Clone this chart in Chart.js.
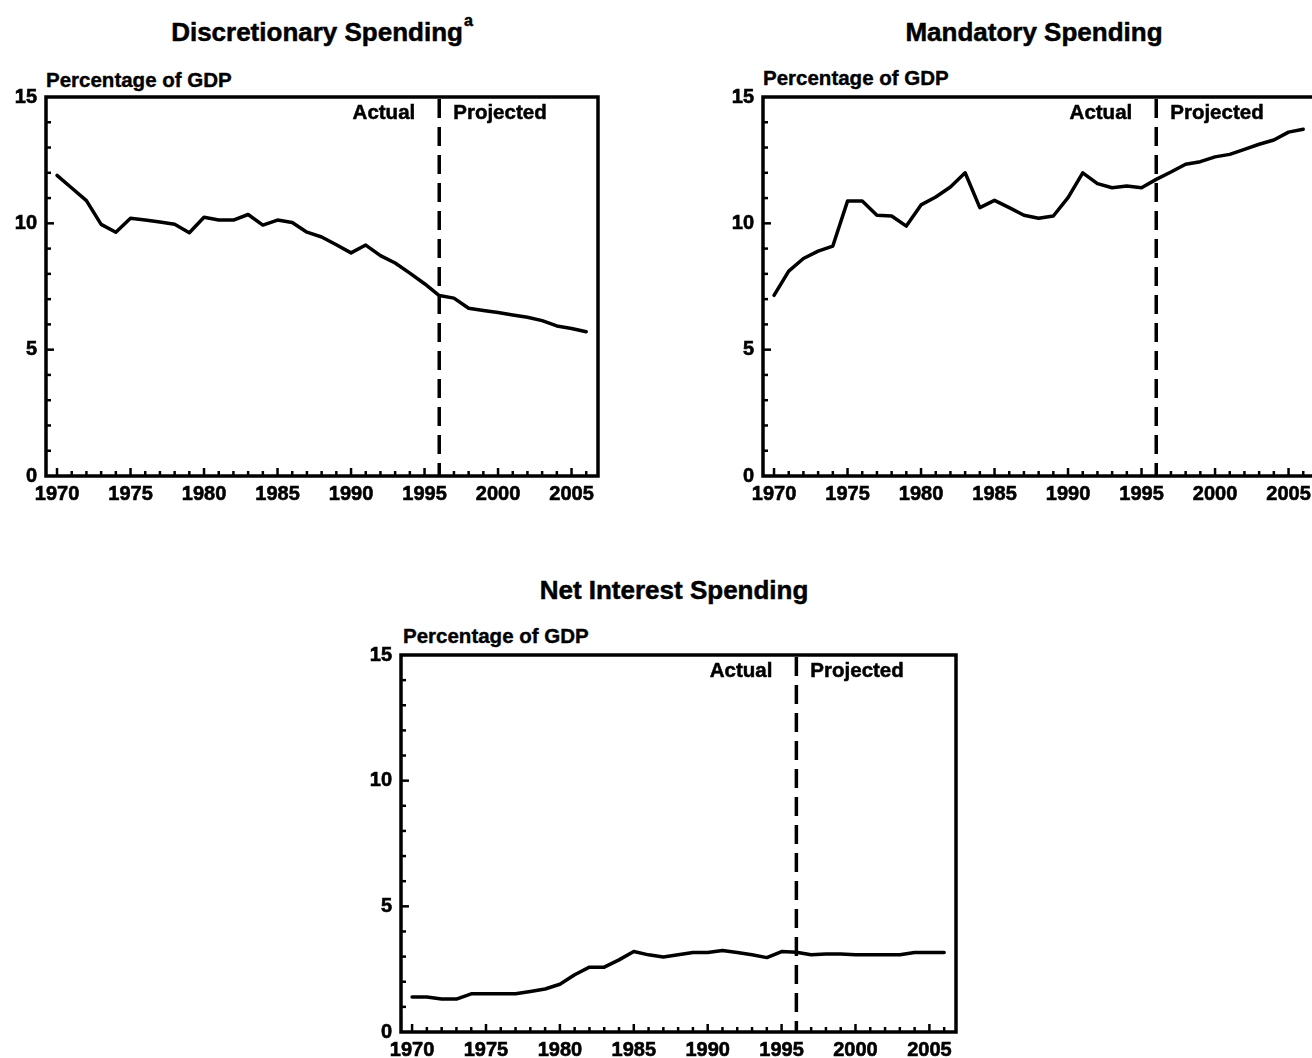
<!DOCTYPE html>
<html>
<head>
<meta charset="utf-8">
<script src="https://cdn.jsdelivr.net/npm/chart.js@4"></script>
<style>
  html, body { margin:0; padding:0; background:#fff; }
  #page { position:relative; width:1312px; height:1058px; overflow:hidden; background:#fff;
          font-family:"Liberation Sans", Arial, sans-serif; color:#000; }
  .title { position:absolute; font-weight:bold; font-size:26px; white-space:nowrap; transform:translate(-50%,-50%);
           -webkit-text-stroke:0.5px #000; }
  .title sup { font-size:16px; vertical-align:top; position:relative; top:-5px; margin-left:1px; }
  .ylab { position:absolute; font-weight:bold; font-size:20.5px; white-space:nowrap; transform:translateY(-50%);
          -webkit-text-stroke:0.4px #000; }
  .box { position:absolute; }
</style>
</head>
<body>
<div id="page">
  <div class="title" style="left:322px; top:32px;">Discretionary Spending<sup>a</sup></div>
  <div class="title" style="left:1034px; top:32px;">Mandatory Spending</div>
  <div class="title" style="left:674px; top:590px;">Net Interest Spending</div>
  <div class="ylab" style="left:46px; top:80px;">Percentage of GDP</div>
  <div class="ylab" style="left:763px; top:78px;">Percentage of GDP</div>
  <div class="ylab" style="left:403px; top:636px;">Percentage of GDP</div>
  <div class="box" style="left:0px; top:0px; width:620px; height:520px;"><canvas id="c1"></canvas></div>
  <div class="box" style="left:717px; top:0px; width:620px; height:520px;"><canvas id="c2"></canvas></div>
  <div class="box" style="left:355px; top:558px; width:620px; height:510px;"><canvas id="c3"></canvas></div>
</div>
<script>
// ---- data ----
const years = [1970,1971,1972,1973,1974,1975,1976,1977,1978,1979,1980,1981,1982,1983,1984,1985,1986,1987,1988,1989,1990,1991,1992,1993,1994,1995,1996,1997,1998,1999,2000,2001,2002,2003,2004,2005,2006];
const discretionary = [11.9,11.4,10.9,9.96,9.65,10.2,10.13,10.05,9.96,9.63,10.24,10.13,10.13,10.35,9.93,10.13,10.03,9.65,9.46,9.15,8.83,9.14,8.72,8.43,8.03,7.61,7.14,7.04,6.64,6.55,6.47,6.37,6.28,6.15,5.94,5.84,5.71];
const mandatory = [7.15,8.11,8.61,8.9,9.1,10.88,10.88,10.32,10.29,9.89,10.73,11.04,11.44,12.0,10.62,10.91,10.62,10.32,10.2,10.29,11.02,12.0,11.57,11.41,11.48,11.41,11.74,12.03,12.34,12.44,12.63,12.73,12.93,13.13,13.3,13.61,13.72];
const netInterest = [1.39,1.39,1.31,1.31,1.52,1.52,1.52,1.52,1.61,1.71,1.9,2.28,2.58,2.58,2.87,3.2,3.07,2.98,3.07,3.16,3.16,3.24,3.16,3.07,2.96,3.2,3.17,3.07,3.1,3.1,3.07,3.07,3.07,3.07,3.16,3.16,3.16];
const xTickLabels = [1970,1975,1980,1985,1990,1995,2000,2005];
const yTickLabels = [0,5,10,15];
const splitYear = 1996;
const leftText = "Actual";
const rightText = "Projected";

const FONT = '"Liberation Sans", Arial, sans-serif';

const framePlugin = {
  id: 'frame',
  afterDatasetsDraw(chart) {
    const ctx = chart.ctx, a = chart.chartArea, x = chart.scales.x, y = chart.scales.y;
    ctx.save();
    ctx.strokeStyle = '#000';
    ctx.lineWidth = 2.5;
    // minor x ticks (every year), inward
    for (const yr of years) {
      const px = x.getPixelForValue(yr);
      const len = xTickLabels.includes(yr) ? 8 : 5;
      ctx.beginPath(); ctx.moveTo(px, a.bottom); ctx.lineTo(px, a.bottom - len); ctx.stroke();
    }
    // minor y ticks (every unit), inward
    for (let v = 1; v < 15; v++) {
      const py = y.getPixelForValue(v);
      const len = yTickLabels.includes(v) ? 8 : 5;
      ctx.beginPath(); ctx.moveTo(a.left, py); ctx.lineTo(a.left + len, py); ctx.stroke();
    }
    // frame
    ctx.lineWidth = 3.5;
    ctx.strokeRect(a.left, a.top, a.right - a.left, a.bottom - a.top);
    // dashed divider
    const dx = x.getPixelForValue(splitYear);
    ctx.lineWidth = 3.5;
    ctx.setLineDash([19, 9]);
    ctx.beginPath(); ctx.moveTo(dx, a.top + 2); ctx.lineTo(dx, a.bottom); ctx.stroke();
    ctx.setLineDash([]);
    // labels
    ctx.fillStyle = '#000';
    ctx.font = 'bold 20.5px ' + FONT;
    ctx.textBaseline = 'middle';
    ctx.lineWidth = 0.5;
    ctx.textAlign = 'right'; ctx.fillText(leftText, dx - 24, a.top + 16); ctx.strokeText(leftText, dx - 24, a.top + 16);
    ctx.textAlign = 'left'; ctx.fillText(rightText, dx + 14, a.top + 16); ctx.strokeText(rightText, dx + 14, a.top + 16);
    ctx.restore();
  }
};

function makeChart(id, values, padRight, xAxisH) {
  return new Chart(document.getElementById(id), {
    type: 'line',
    data: {
      datasets: [{
        data: years.map((yr, i) => ({ x: yr, y: values[i] })),
        borderColor: '#000', borderWidth: 3.5, pointRadius: 0, tension: 0, fill: false,
        borderJoinStyle: 'round', borderCapStyle: 'round'
      }]
    },
    options: {
      responsive: true, maintainAspectRatio: false, animation: false,
      layout: { padding: { left: 0, right: padRight, top: 97, bottom: 0 } },
      plugins: { legend: { display: false }, tooltip: { enabled: false }, title: { display: false } },
      scales: {
        x: {
          type: 'linear', min: 1969.25, max: 2006.8,
          afterBuildTicks: s => { s.ticks = xTickLabels.map(v => ({ value: v })); },
          afterFit: s => { s.height = xAxisH; },
          grid: { display: false, drawTicks: false },
          border: { display: false },
          ticks: { color: '#000', font: { family: FONT, size: 20, weight: 'bold' }, padding: 6,
                   textStrokeColor: '#000', textStrokeWidth: 0.6,
                   maxRotation: 0, autoSkip: false, callback: v => String(v) }
        },
        y: {
          type: 'linear', min: 0, max: 15,
          afterBuildTicks: s => { s.ticks = yTickLabels.map(v => ({ value: v })); },
          afterFit: s => { s.width = 46; },
          grid: { display: false, drawTicks: false },
          border: { display: false },
          ticks: { color: '#000', font: { family: FONT, size: 20, weight: 'bold' }, padding: 9,
                   textStrokeColor: '#000', textStrokeWidth: 0.6,
                   callback: v => String(v) }
        }
      }
    },
    plugins: [framePlugin]
  });
}

makeChart('c1', discretionary, 22, 44);
makeChart('c2', mandatory, 22, 44);
makeChart('c3', netInterest, 19, 36);
</script>
</body>
</html>
